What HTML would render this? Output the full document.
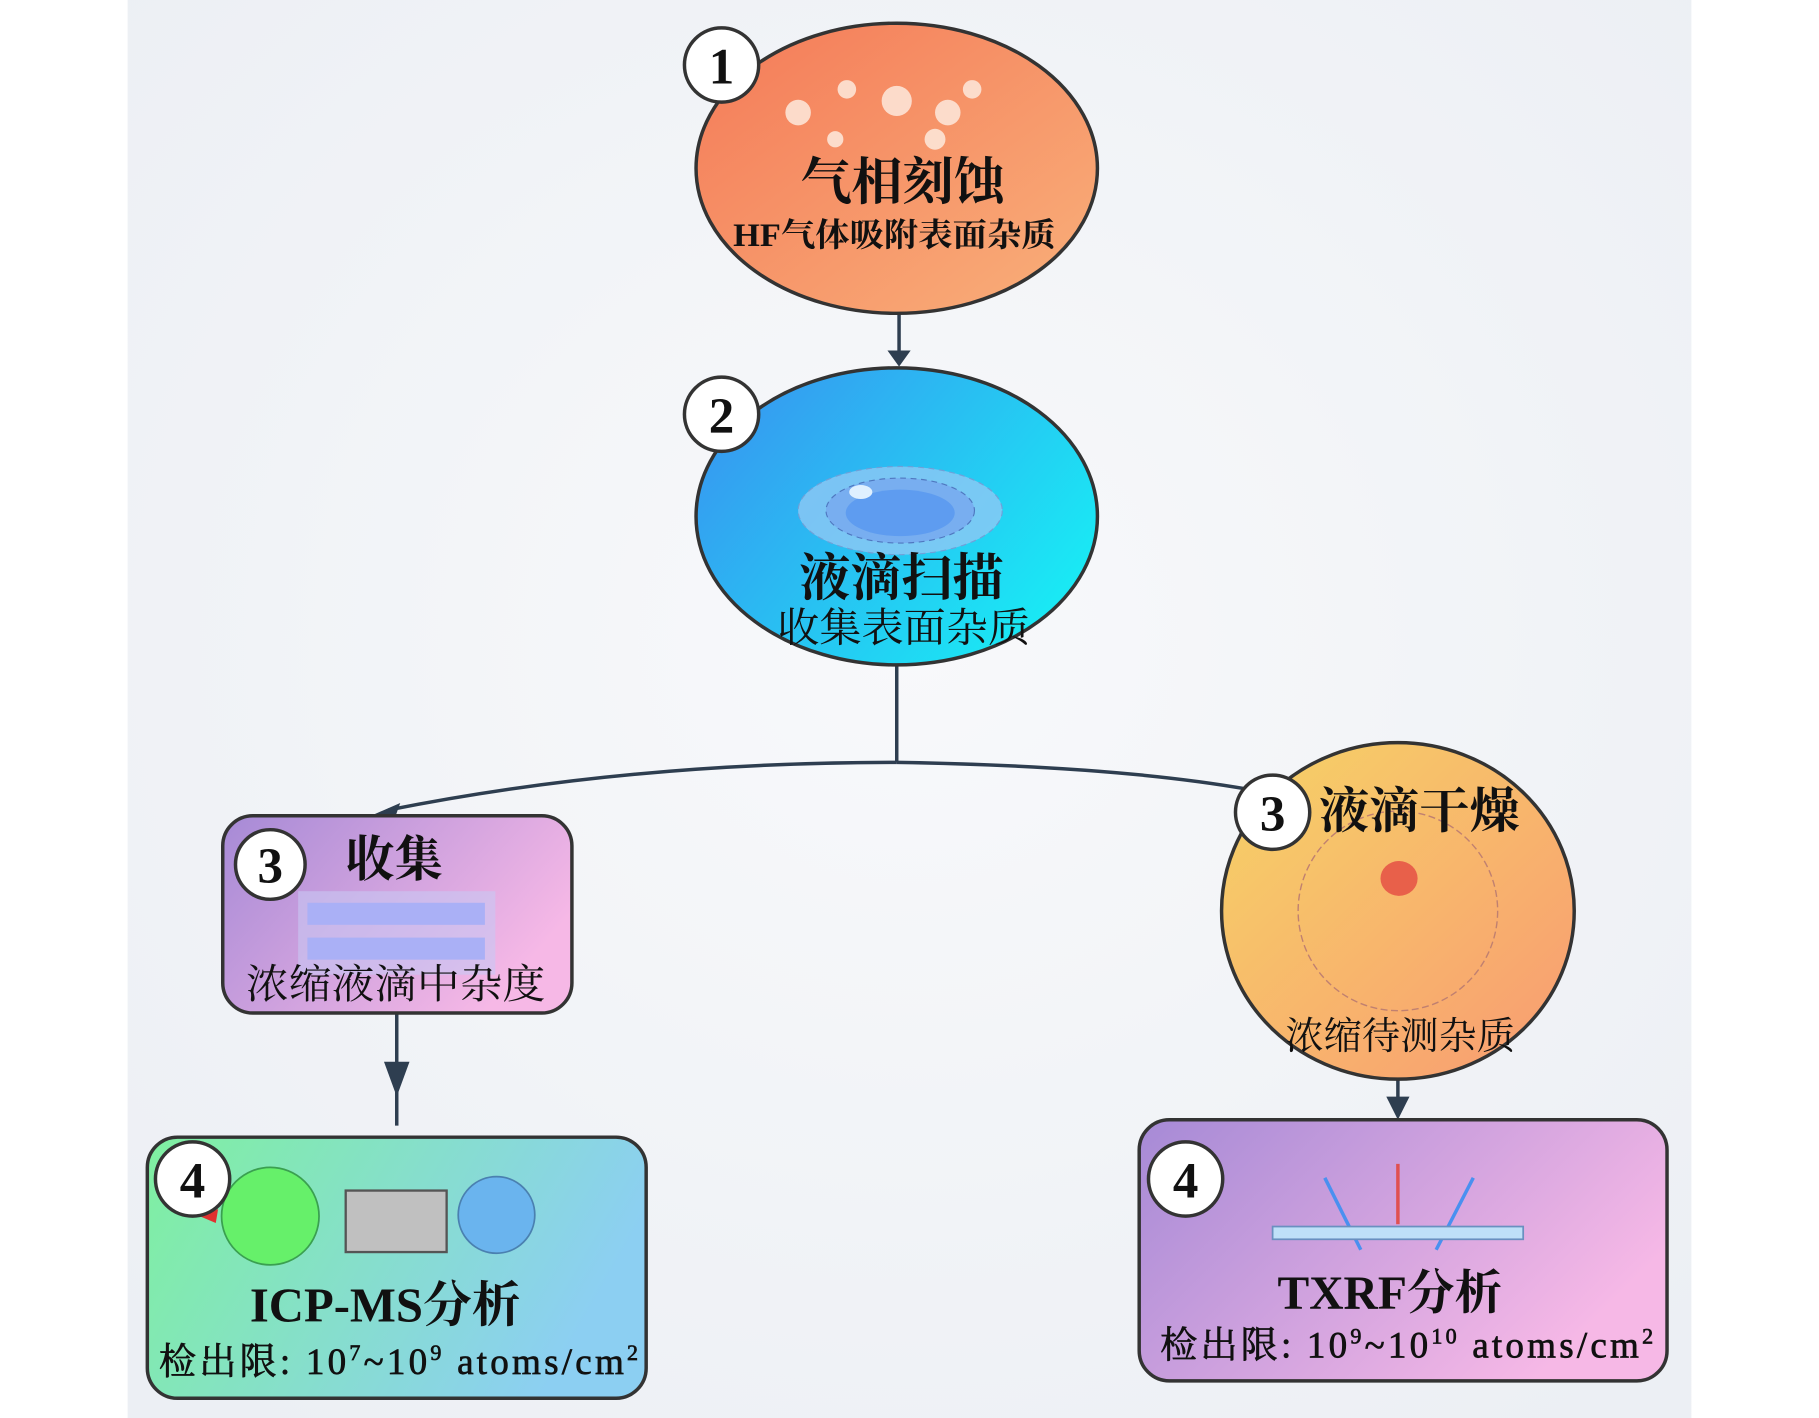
<!DOCTYPE html>
<html><head><meta charset="utf-8"><style>
html,body{margin:0;padding:0;background:#fff;}
svg{display:block;}
text{font-family:"Liberation Serif","Noto Serif CJK SC",serif;fill:#111;}
.b{font-weight:bold;}
</style></head><body>
<svg width="1819" height="1418" viewBox="0 0 1568 1222" preserveAspectRatio="none" xmlns="http://www.w3.org/2000/svg">
<defs>
<radialGradient id="bg" cx="50%" cy="45%" r="70%"><stop offset="0" stop-color="#f8f9fb"/><stop offset="1" stop-color="#eceff4"/></radialGradient>
<linearGradient id="g1" x1="0" y1="0" x2="1" y2="1"><stop offset="0" stop-color="#f47a58"/><stop offset="1" stop-color="#f9b07a"/></linearGradient>
<linearGradient id="g2" x1="0" y1="0" x2="1" y2="0.6"><stop offset="0" stop-color="#3a8ff0"/><stop offset="1" stop-color="#1ae8f4"/></linearGradient>
<linearGradient id="g3" x1="0" y1="0" x2="1" y2="1"><stop offset="0" stop-color="#f6d466"/><stop offset="1" stop-color="#f99a72"/></linearGradient>
<linearGradient id="gp" x1="0" y1="0" x2="1" y2="0.5"><stop offset="0" stop-color="#a68ad6"/><stop offset="1" stop-color="#f6b8e6"/></linearGradient>
<linearGradient id="gg" x1="0" y1="0" x2="1" y2="0.3"><stop offset="0" stop-color="#7ff0a0"/><stop offset="1" stop-color="#8ccff2"/></linearGradient>
</defs>
<rect x="0" y="0" width="1568" height="1222" fill="#fff"/>
<rect x="110" y="0" width="1348" height="1222" fill="url(#bg)"/>

<g stroke="#2e3e50" stroke-width="3" fill="none">
<line x1="775" y1="270" x2="775" y2="312"/>
<line x1="773" y1="573" x2="773" y2="657"/>
<path d="M773 657 Q540 657 335 698"/>
<path d="M773 657 Q960 660 1075 680"/>
<line x1="342" y1="873" x2="342" y2="970"/>
<line x1="1205" y1="930" x2="1205" y2="960"/>
</g>
<polygon points="765,302 785,302 775,316" fill="#2e3e50"/>
<polygon points="322,702 345,692 340,706" fill="#2e3e50"/>
<polygon points="331,915 353,915 342,945" fill="#2e3e50"/>
<polygon points="1195,945 1215,945 1205,965" fill="#2e3e50"/>

<ellipse cx="773" cy="145" rx="173" ry="125" fill="url(#g1)" stroke="#333" stroke-width="3"/>
<g fill="#fde4d6" opacity="0.9">
<circle cx="688" cy="97" r="11"/><circle cx="730" cy="77" r="8"/><circle cx="773" cy="87" r="13"/>
<circle cx="817" cy="97" r="11"/><circle cx="838" cy="77" r="8"/><circle cx="720" cy="120" r="7"/><circle cx="806" cy="120" r="9"/>
</g>
<text x="778" y="172" font-size="44" class="b" text-anchor="middle">气相刻蚀</text>
<text x="632" y="212" font-size="28" class="b" textLength="278" lengthAdjust="spacingAndGlyphs">HF气体吸附表面杂质</text>
<circle cx="622" cy="56" r="32" fill="#fff" stroke="#333" stroke-width="3"/>
<text x="622" y="72" font-size="44" class="b" text-anchor="middle">1</text>

<ellipse cx="773" cy="445" rx="173" ry="128" fill="url(#g2)" stroke="#333" stroke-width="3"/>
<ellipse cx="776" cy="440" rx="88" ry="38" fill="#8fc8f4" opacity="0.8"/>
<ellipse cx="776" cy="440" rx="88" ry="38" fill="none" stroke="#6fa0d8" stroke-dasharray="5 4"/>
<ellipse cx="776" cy="440" rx="64" ry="28" fill="#78aef0" stroke="#4f78c0" stroke-dasharray="5 4"/>
<ellipse cx="776" cy="442" rx="47" ry="20" fill="#5e9cf0"/>
<ellipse cx="742" cy="424" rx="10" ry="6" fill="#dff0ff"/>
<text x="777" y="513" font-size="44" class="b" text-anchor="middle">液滴扫描</text>
<text x="670" y="553" font-size="35" textLength="218" lengthAdjust="spacingAndGlyphs">收集表面杂质</text>
<circle cx="622" cy="357" r="32" fill="#fff" stroke="#333" stroke-width="3"/>
<text x="622" y="373" font-size="44" class="b" text-anchor="middle">2</text>

<rect x="192" y="703" width="301" height="170" rx="26" fill="url(#gp)" stroke="#333" stroke-width="3"/>
<rect x="257" y="768" width="170" height="72" fill="#c8c8f4" opacity="0.6"/>
<rect x="265" y="778" width="153" height="19" fill="#aab0f6"/>
<rect x="265" y="808" width="153" height="19" fill="#aab0f6"/>
<text x="340" y="755" font-size="42" class="b" text-anchor="middle">收集</text>
<text x="212" y="860" font-size="35" textLength="258" lengthAdjust="spacingAndGlyphs">浓缩液滴中杂度</text>
<circle cx="233" cy="745" r="30" fill="#fff" stroke="#333" stroke-width="3"/>
<text x="233" y="761" font-size="44" class="b" text-anchor="middle">3</text>

<rect x="127" y="980" width="430" height="225" rx="26" fill="url(#gg)" stroke="#333" stroke-width="3"/>
<path d="M172 1048 L188 1042 L186 1054 Z" fill="#e03030"/>
<circle cx="233" cy="1048" r="42" fill="#66f06a" stroke="#3aa050" stroke-width="1.5"/>
<rect x="298" y="1026" width="87" height="53" fill="#c0c0c0" stroke="#555" stroke-width="2"/>
<circle cx="428" cy="1047" r="33" fill="#6ab4ee" stroke="#4a80b0" stroke-width="1.5"/>
<text x="332" y="1139" font-size="42" class="b" text-anchor="middle">ICP-MS分析</text>
<text x="137" y="1184" font-size="32" stroke="#111" stroke-width="0.6" textLength="413" lengthAdjust="spacing">检出限: 10<tspan font-size="19" dy="-12">7</tspan><tspan dy="12">~10</tspan><tspan font-size="19" dy="-12">9</tspan><tspan dy="12"> atoms/cm</tspan><tspan font-size="19" dy="-12">2</tspan></text>
<circle cx="166" cy="1016" r="32" fill="#fff" stroke="#333" stroke-width="3"/>
<text x="166" y="1032" font-size="44" class="b" text-anchor="middle">4</text>

<ellipse cx="1205" cy="785" rx="152" ry="145" fill="url(#g3)" stroke="#333" stroke-width="3"/>
<circle cx="1205" cy="785" r="86" fill="none" stroke="#c08070" stroke-width="1.2" stroke-dasharray="6 3"/>
<ellipse cx="1206" cy="757" rx="16" ry="15" fill="#e8604a"/>
<text x="1137" y="713" font-size="42" class="b" textLength="173" lengthAdjust="spacingAndGlyphs">液滴干燥</text>
<text x="1108" y="904" font-size="33" textLength="198" lengthAdjust="spacingAndGlyphs">浓缩待测杂质</text>
<circle cx="1097" cy="700" r="32" fill="#fff" stroke="#333" stroke-width="3"/>
<text x="1097" y="716" font-size="44" class="b" text-anchor="middle">3</text>

<rect x="982" y="965" width="455" height="225" rx="26" fill="url(#gp)" stroke="#333" stroke-width="3"/>
<line x1="1142" y1="1015" x2="1173" y2="1077" stroke="#4a90f0" stroke-width="3"/>
<line x1="1270" y1="1015" x2="1238" y2="1077" stroke="#4a90f0" stroke-width="3"/>
<line x1="1205" y1="1003" x2="1205" y2="1055" stroke="#e05050" stroke-width="3"/>
<rect x="1097" y="1057" width="216" height="11" fill="#bfe0f8" stroke="#6a90c0" stroke-width="1.5"/>
<text x="1198" y="1128" font-size="41" class="b" text-anchor="middle">TXRF分析</text>
<text x="1000" y="1170" font-size="32" stroke="#111" stroke-width="0.6" textLength="425" lengthAdjust="spacing">检出限: 10<tspan font-size="19" dy="-12">9</tspan><tspan dy="12">~10</tspan><tspan font-size="19" dy="-12">10</tspan><tspan dy="12"> atoms/cm</tspan><tspan font-size="19" dy="-12">2</tspan></text>
<circle cx="1022" cy="1016" r="32" fill="#fff" stroke="#333" stroke-width="3"/>
<text x="1022" y="1032" font-size="44" class="b" text-anchor="middle">4</text>
</svg>
</body></html>
